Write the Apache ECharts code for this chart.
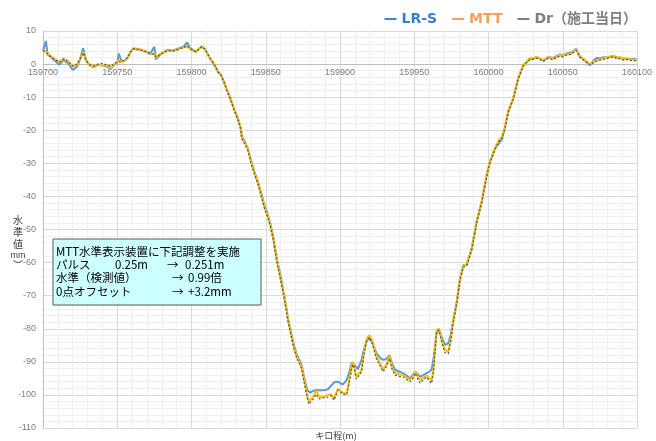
<!DOCTYPE html>
<html>
<head>
<meta charset="utf-8">
<script src="https://cdn.jsdelivr.net/npm/echarts@6/dist/echarts.min.js"></script>
<style>html,body{margin:0;padding:0;background:#fff;}#c{width:656px;height:441px;}</style>
</head>
<body>
<div id="c"></div>
<script>
// キロ程 (m)
var dist = [159700,159702,159703,159705,159708,159711,159714,159717,159720,159723,159725,159727,159729,159731,159734,159737,159740,159743,159746,159748,159750,159751,159753,159755,159757,159759,159761,159763,159765,159768,159770,159772,159775,159776,159778,159780,159782,159784,159787,159790,159793,159795,159797,159799,159801,159803,159805,159807,159809,159811,159813,159815,159818,
159820,159822,159824,159826,159829,159831,159833,159834,159836,159838,159840,159842,159845,159847,159849,159851,159853,159855,159856,159858,159860,159862,159864,159865,159867,159869,159871,159873,159874,159876,159878,159879,159880,159882,159884,159886,159888,159890,159892,159894,159896,159898.5,159900,159902,159904.5,159906,159908,159909,159911,159912,159914.5,159916,159918,159920,159922,159924.5,159927,159929,159931,159933.5,159935,159937,159940,159942.5,159945,159947,159949,159950.5,159952,159954,159956,159958.4,159960,159961.7,159963,159965,159966.7,159968.5,159970.7,159972.9,159974.5,159976.3,159978.6,159980.8,159983,159985.3,159988.7,159992,159995.4,159998.8,160001,160004.4,160007,160009,160011,160013.3,160016.7,160020,160023.4,160026,160028,160030,160032.5,160035,160037,160040.3,160043.3,160046,160048,160050,160052.6,160056,160059,160061.6,160065,160068.4,160070.6,160073,160075,160077.5,160079.6,160082,160084,160086,160088.6,160091,160093,160095.5,160097.5,160100];
var lrs = [4.0,7.0,3.0,2.2,1.0,-0.2,1.2,0.2,-1.8,-0.8,1.5,4.8,1.2,-0.3,-1.0,-0.2,-0.4,-0.8,-1.2,-0.2,0.3,3.2,0.8,1.0,1.8,3.8,4.6,4.4,4.4,4.0,3.6,3.0,5.2,1.4,2.4,3.3,3.8,4.3,4.0,4.5,5.0,5.4,6.6,4.8,4.3,3.8,4.6,5.3,4.4,2.8,1.3,0.0,-2.5,
-3.5,-5.5,-8.0,-10.0,-14.0,-16.0,-19.0,-22.0,-23.5,-25.5,-29.0,-32.0,-36.0,-39.0,-42.5,-45.0,-48.0,-52.0,-55.0,-60.0,-64.0,-69.0,-74.0,-77.0,-81.0,-85.0,-88.0,-89.8,-90.8,-95.0,-98.6,-99.0,-99.3,-98.8,-98.5,-98.6,-98.6,-98.5,-98.2,-97.2,-96.2,-96.0,-96.4,-96.8,-95.5,-93.5,-90.2,-89.9,-91.5,-92.3,-89.4,-86.5,-83.5,-82.9,-84.5,-87.4,-88.8,-89.4,-89.2,-88.0,-90.5,-92.4,-93.0,-93.4,-94.2,-95.0,-94.0,-92.9,-93.6,-94.5,-94.0,-93.4,-93.0,-92.4,-89.0,-81.4,-80.4,-82.5,-84.9,-84.4,-82.0,-77.3,-71.8,-64.8,-60.7,-60.7,-55.7,-47.6,-41.6,-33.5,-29.5,-25.5,-24.0,-22.8,-19.4,-14.4,-10.4,-4.3,-0.3,0.8,1.7,1.6,2.2,1.6,1.0,2.2,1.8,2.5,2.9,2.6,3.2,3.5,4.6,2.2,1.0,-0.3,1.0,1.9,1.7,2.1,2.0,2.2,2.4,2.0,2.0,1.6,1.7,1.5,1.5,1.4];
var mtt = [4.2,3.8,3.2,2.5,1.5,0.7,1.6,0.8,-0.8,-0.2,1.8,3.6,1.2,-0.2,-1.0,-0.3,-0.2,-0.6,-1.0,0.0,0.5,1.2,0.6,1.0,2.0,3.8,4.9,4.6,4.6,4.0,3.8,3.2,3.0,2.0,2.8,3.3,3.6,4.0,4.2,4.2,4.9,5.0,5.4,4.6,4.0,3.6,4.6,5.4,4.5,2.8,1.4,0.3,-2.3,
-3.3,-5.5,-7.9,-10.2,-14.0,-16.3,-19.0,-22.5,-23.8,-25.8,-29.4,-32.4,-36.2,-39.6,-43.0,-45.6,-48.4,-52.6,-55.4,-60.6,-64.8,-69.4,-74.4,-77.4,-81.6,-85.6,-88.6,-90.4,-91.5,-95.8,-100.5,-102.0,-101.8,-100.6,-98.6,-100.6,-100.6,-100.3,-100.0,-99.8,-101.2,-98.2,-98.6,-99.4,-99.5,-96.0,-91.0,-90.0,-94.5,-95.0,-92.5,-87.5,-83.0,-81.9,-84.0,-88.4,-90.5,-92.4,-91.0,-88.2,-91.5,-93.4,-93.8,-93.9,-94.8,-95.5,-94.5,-92.9,-94.2,-95.5,-94.8,-94.0,-95.0,-95.5,-92.0,-80.5,-79.9,-83.5,-86.4,-86.9,-83.5,-77.5,-72.0,-65.0,-61.0,-60.5,-55.8,-47.8,-41.5,-33.6,-29.3,-25.3,-23.0,-22.0,-19.0,-14.0,-10.2,-4.2,-0.4,1.0,1.8,1.8,2.2,1.7,1.2,2.1,1.6,2.2,2.7,2.5,3.0,3.2,4.4,2.4,1.2,0.0,0.6,1.2,1.4,1.8,2.0,2.3,2.5,2.2,2.0,1.6,1.7,1.4,1.3,1.3];
var dr = [4.0,3.6,3.0,2.3,1.3,0.6,1.6,0.8,-0.6,0.0,1.6,3.4,1.0,0.1,-0.6,0.0,0.2,-0.3,-0.6,0.2,0.6,1.0,0.8,1.2,2.0,3.6,4.7,4.5,4.4,3.9,3.7,3.3,3.0,2.2,2.6,3.2,3.6,4.1,4.0,4.2,4.8,5.1,5.5,4.7,4.2,3.7,4.5,5.3,4.6,3.0,1.5,0.2,-2.4,
-3.4,-5.6,-8.2,-10.5,-14.2,-16.6,-19.4,-22.8,-24.2,-26.2,-29.8,-32.8,-36.6,-40.0,-43.4,-46.0,-48.8,-53.0,-55.8,-61.0,-65.2,-69.8,-74.8,-77.8,-82.0,-86.0,-89.0,-90.8,-92.0,-96.5,-101.0,-102.8,-102.6,-101.2,-99.8,-101.2,-101.0,-100.8,-100.6,-100.2,-101.6,-98.6,-99.0,-99.8,-100.0,-96.8,-91.8,-90.8,-95.2,-95.8,-93.0,-88.0,-83.6,-82.6,-84.8,-89.0,-91.2,-93.0,-91.6,-89.0,-92.2,-94.0,-94.4,-94.6,-95.4,-96.0,-95.2,-93.4,-94.8,-96.4,-95.4,-94.6,-95.6,-96.5,-92.8,-81.0,-80.4,-84.0,-87.2,-87.5,-84.0,-78.0,-72.4,-65.4,-61.4,-61.0,-56.2,-48.2,-42.0,-34.0,-29.8,-25.8,-23.4,-22.5,-19.5,-14.5,-10.6,-4.6,-0.6,0.6,1.4,1.4,1.8,1.3,0.9,1.8,1.4,2.0,2.4,2.2,2.7,3.0,4.2,2.0,0.9,-0.3,0.4,1.0,1.2,1.5,1.7,2.0,2.2,1.8,1.6,1.2,1.4,1.1,1.0,1.1];

var seriesNames = ['LR-S', 'MTT', 'Dr（施工当日）'];
var xTicks = {min: 159700, max: 160100, step: 50};
var yTicks = {min: -110, max: 10, step: 10};
var noteLines = ['MTT水準表示装置に下記調整を実施', 'パルス', '0.25m', '→', '0.251m', '水準（検測値）', '→', '0.99倍', '0点オフセット', '→', '+3.2mm'];

function zip(a){ return dist.map(function(d,i){ return [d, a[i]]; }); }

var W = 656, H = 441, gTop = 31, gBottom = 13;
var plotH = H - gTop - gBottom;
var zeroOffset = -(plotH * (0 - yTicks.min) / (yTicks.max - yTicks.min));

var chart = echarts.init(document.getElementById('c'));
var labelFont = 'Liberation Sans, Arial, sans-serif';
var cjk = 'Noto Sans CJK JP, sans-serif';
chart.setOption({
  animation: false,
  backgroundColor: '#ffffff',
  grid: {left: 43, right: 19, top: gTop, bottom: gBottom, containLabel: false},
  legend: {
    right: 14, top: 7, itemWidth: 12, itemHeight: 2, itemGap: 15, icon: 'rect',
    textStyle: {fontSize: 14, fontWeight: 'bold', fontFamily: 'DejaVu Sans, Noto Sans CJK JP, sans-serif'},
    data: [
      {name: seriesNames[0], itemStyle: {color: '#3f86cf'}, textStyle: {color: '#3a7dc9'}},
      {name: seriesNames[1], itemStyle: {color: '#f5a05a'}, textStyle: {color: '#f5a05a'}},
      {name: seriesNames[2], itemStyle: {color: '#7f7f7f'}, textStyle: {color: '#7f7f7f'}}
    ]
  },
  xAxis: [{
    type: 'value', min: xTicks.min, max: xTicks.max, interval: xTicks.step,
    axisLine: {show: false},
    axisTick: {show: false},
    axisLabel: {show: false},
    splitLine: {show: true, lineStyle: {color: '#d9d9d9'}},
    minorTick: {show: false, splitNumber: 5},
    minorSplitLine: {show: true, lineStyle: {color: '#f0f0f0'}}
  }, {
    type: 'value', min: xTicks.min, max: xTicks.max, interval: xTicks.step,
    position: 'bottom', offset: zeroOffset,
    axisLine: {show: true, onZero: false, lineStyle: {color: '#bfbfbf'}},
    axisTick: {show: false},
    axisLabel: {fontSize: 9, color: '#7f7f7f', margin: 4, fontFamily: labelFont, showMinLabel: true, showMaxLabel: true,
      formatter: function(v){ return String(v); }},
    splitLine: {show: false}
  }],
  yAxis: {
    type: 'value', min: yTicks.min, max: yTicks.max, interval: yTicks.step,
    axisLine: {show: true, lineStyle: {color: '#bfbfbf'}},
    axisTick: {show: false},
    axisLabel: {fontSize: 9, color: '#7f7f7f', margin: 7, fontFamily: labelFont},
    splitLine: {show: true, lineStyle: {color: '#d9d9d9'}},
    minorTick: {show: false, splitNumber: 5},
    minorSplitLine: {show: true, lineStyle: {color: '#f0f0f0'}}
  },
  series: [
    {name: seriesNames[0], type: 'line', data: zip(lrs), symbol: 'none', color: '#5b9bd5', lineStyle: {width: 2, color: '#5b9bd5'}, z: 2},
    {name: seriesNames[1], type: 'line', data: zip(mtt), symbol: 'none', color: '#ffc000', lineStyle: {width: 2, color: '#ffc000'}, z: 3},
    {name: seriesNames[2], type: 'line', data: zip(dr), symbol: 'none', color: '#595959', lineStyle: {width: 1.3, color: '#595959', type: [2, 2]}, z: 4}
  ],
  graphic: [
    {type: 'text', x: 336, y: 436, z: 10, style: {text: 'キロ程(m)', fontSize: 9, fill: '#404040', fontFamily: cjk, align: 'center', verticalAlign: 'middle'}},
    {type: 'text', x: 18, y: 220, z: 10, style: {text: '水', fontSize: 10, fill: '#404040', fontFamily: cjk, align: 'center', verticalAlign: 'middle'}},
    {type: 'text', x: 18, y: 232, z: 10, style: {text: '準', fontSize: 10, fill: '#404040', fontFamily: cjk, align: 'center', verticalAlign: 'middle'}},
    {type: 'text', x: 18, y: 244, z: 10, style: {text: '値', fontSize: 10, fill: '#404040', fontFamily: cjk, align: 'center', verticalAlign: 'middle'}},
    {type: 'text', x: 18, y: 256, z: 10, style: {text: 'mm', fontSize: 9, fill: '#404040', fontFamily: labelFont, align: 'center', verticalAlign: 'middle'}},
    {type: 'text', x: 18, y: 265, z: 10, style: {text: '︶', fontSize: 10, fill: '#404040', fontFamily: cjk, align: 'center', verticalAlign: 'middle'}},
    {type: 'rect', shape: {x: 53, y: 239, width: 208, height: 66}, z: 10, style: {fill: '#ccffff', stroke: '#595959', lineWidth: 1}},
    {type: 'text', x: 56, y: 252, z: 11, style: {text: noteLines[0], fontSize: 11.5, fill: '#000', fontFamily: cjk, verticalAlign: 'middle'}},
    {type: 'text', x: 56, y: 265, z: 11, style: {text: noteLines[1], fontSize: 11.5, fill: '#000', fontFamily: cjk, verticalAlign: 'middle'}},
    {type: 'text', x: 115, y: 265, z: 11, style: {text: noteLines[2], fontSize: 11.5, fill: '#000', fontFamily: cjk, verticalAlign: 'middle'}},
    {type: 'text', x: 167, y: 265, z: 11, style: {text: noteLines[3], fontSize: 11.5, fill: '#000', fontFamily: cjk, verticalAlign: 'middle'}},
    {type: 'text', x: 185, y: 265, z: 11, style: {text: noteLines[4], fontSize: 11.5, fill: '#000', fontFamily: cjk, verticalAlign: 'middle'}},
    {type: 'text', x: 56, y: 278, z: 11, style: {text: noteLines[5], fontSize: 11.5, fill: '#000', fontFamily: cjk, verticalAlign: 'middle'}},
    {type: 'text', x: 172, y: 278, z: 11, style: {text: noteLines[6], fontSize: 11.5, fill: '#000', fontFamily: cjk, verticalAlign: 'middle'}},
    {type: 'text', x: 188, y: 278, z: 11, style: {text: noteLines[7], fontSize: 11.5, fill: '#000', fontFamily: cjk, verticalAlign: 'middle'}},
    {type: 'text', x: 56, y: 292, z: 11, style: {text: noteLines[8], fontSize: 11.5, fill: '#000', fontFamily: cjk, verticalAlign: 'middle'}},
    {type: 'text', x: 172, y: 292, z: 11, style: {text: noteLines[9], fontSize: 11.5, fill: '#000', fontFamily: cjk, verticalAlign: 'middle'}},
    {type: 'text', x: 188, y: 292, z: 11, style: {text: noteLines[10], fontSize: 11.5, fill: '#000', fontFamily: cjk, verticalAlign: 'middle'}}
  ]
});
</script>
</body>
</html>
